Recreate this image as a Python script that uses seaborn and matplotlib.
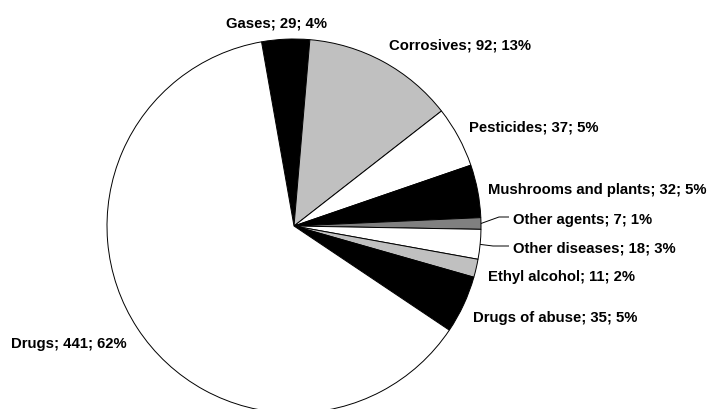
import numpy as np
import matplotlib
matplotlib.use("Agg")
import matplotlib.pyplot as plt
import seaborn as sns

# Poisoning cases by agent group (clockwise from the top)
categories = ["Gases", "Corrosives", "Pesticides", "Mushrooms and plants",
              "Other agents", "Other diseases", "Ethyl alcohol",
              "Drugs of abuse", "Drugs"]
counts = [29, 92, 37, 32, 7, 18, 11, 35, 441]
percents = [4, 13, 5, 5, 1, 3, 2, 5, 62]

fills = ["#000000", "#C0C0C0", "#FFFFFF", "#000000", "#808080",
         "#FFFFFF", "#C0C0C0", "#000000", "#FFFFFF"]

sns.set_theme(style="white")
plt.rcParams["font.family"] = ["Liberation Sans", "DejaVu Sans"]

W, H = 710, 410
fig = plt.figure(figsize=(W / 100, H / 100), dpi=100)
ax = fig.add_axes([0, 0, 1, 1])

cx, cy, r = 294, H - 227, 187
wedges, _ = ax.pie(counts, colors=fills, startangle=100, counterclock=False,
                   radius=r, center=(cx, cy), frame=True,
                   wedgeprops=dict(edgecolor="black", linewidth=0.7))
ax.set_xlim(0, W)
ax.set_ylim(0, H)
ax.set_aspect("equal")
ax.axis("off")

# label anchor points in pixel space (x, y from top), alignment
label_pos = {
    "Gases": (276, 24, "center"),
    "Corrosives": (389, 46, "left"),
    "Pesticides": (469, 128, "left"),
    "Mushrooms and plants": (488, 190, "left"),
    "Other agents": (513, 220, "left"),
    "Other diseases": (513, 249, "left"),
    "Ethyl alcohol": (488, 277, "left"),
    "Drugs of abuse": (473, 318, "left"),
    "Drugs": (11, 344, "left"),
}

for name, n, p in zip(categories, counts, percents):
    x, y, ha = label_pos[name]
    ax.text(x, H - y, f"{name}; {n}; {p}%", ha=ha, va="center",
            fontsize=10.7, fontweight="bold", color="black")

# leader lines for the two thin wedges
leaders = {"Other agents": (499, 218), "Other diseases": (493, 247)}
for w, name in zip(wedges, categories):
    if name in leaders:
        mid = np.deg2rad((w.theta1 + w.theta2) / 2)
        sx, sy = cx + r * np.cos(mid), cy + r * np.sin(mid)
        ex, ey = leaders[name]
        ax.plot([sx, ex, 509], [sy, H - ey, H - ey], color="black",
                linewidth=0.7, solid_capstyle="butt")

fig.savefig("out.png", dpi=100, facecolor="white")
